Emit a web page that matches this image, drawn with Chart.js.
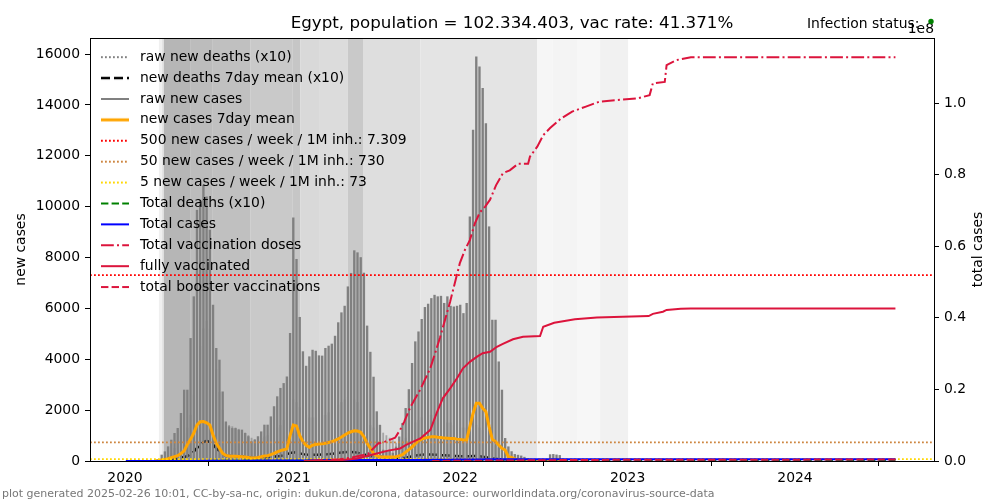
<!DOCTYPE html>
<html>
<head>
<meta charset="utf-8">
<script src="https://cdn.jsdelivr.net/npm/chart.js@4.4.1/dist/chart.umd.min.js"></script>
<style>
  html, body { margin: 0; padding: 0; background: #fff; }
</style>
</head>
<body>
<canvas id="myChart" width="1000" height="500"></canvas>
<script>
// ---- data -------------------------------------------------------------
const MIO = 1e6;
const yearLabels = ['2020', '2021', '2022', '2023', '2024'];
const leftTicks = [0, 2000, 4000, 6000, 8000, 10000, 12000, 14000, 16000];
const rightTicks = [0, 2e7, 4e7, 6e7, 8e7, 1e8];

// weekly reports, first week ending 2020-03-07
const weekStart = '2020-03-07';
const casesWeekly = [
  10, 60, 236, 366, 563, 825, 1087, 1284, 1874, 2790,
  2790, 4820, 6460, 9860, 10260, 10850, 10390, 9080, 6130, 4430,
  3970, 2720, 1540, 1350, 1280, 1280, 1220, 1220, 1090, 960,
  760, 825, 960, 1150, 1415, 1415, 1740, 2140, 2530, 2860,
  3050, 3310, 5020, 9560, 7930, 5650, 4300, 3730, 4100, 4360,
  4320, 4140, 4130, 4430, 4520, 4600, 4910, 5440, 5830, 6090,
  6850, 7380, 8270, 8190, 8000, 7390, 5310, 4280, 3300, 1940,
  1410, 430, 400, 430, 310, 550, 950, 1480, 2070, 2810,
  3840, 4690, 5080, 5570, 6040, 6170, 6390, 6520, 6460, 6480,
  6200, 6460, 6090, 6060, 6090, 6130, 5800, 6200, 9600, 13010,
  15890, 15500, 14650, 13270, 9210, 5540, 5540, 3900, 2790, 890,
  560, 370, 260, 230, 200, 150, 100, 60, 40, 30,
  30, 20, 30, 250, 260, 240, 220, 80
];
const casesMean = [
  2, 10, 40, 60, 90, 130, 170, 210, 290, 400,
  650, 850, 1100, 1415, 1545, 1550, 1500, 1415, 1020, 700,
  500, 300, 220, 190, 185, 185, 180, 170, 160, 140,
  115, 115, 135, 165, 200, 210, 250, 300, 360, 410,
  440, 480, 1000, 1415, 1380, 1000, 760, 620, 540, 620,
  650, 670, 680, 695, 730, 760, 810, 865, 940, 1020,
  1100, 1150, 1190, 1180, 1130, 955, 695, 500, 300, 200,
  170, 160, 157, 157, 157, 165, 200, 250, 350, 450,
  550, 680, 790, 860, 900, 930, 955, 955, 930, 920,
  900, 890, 880, 880, 860, 850, 830, 830, 1350, 1870,
  2270, 2270, 2070, 1940, 1350, 850, 760, 630, 500, 430,
  170, 145, 80, 50, 30, 25, 15, 10, 6, 5,
  4, 3, 4, 35, 37, 34, 30, 12
];
const deathsWeekly10 = [
  0, 0, 20, 50, 150, 300, 500, 700, 900, 1100,
  1300, 1800, 2600, 3600, 4500, 5200, 5500, 5200, 4500, 3600,
  2700, 2000, 1500, 1400, 1350, 1300, 1250, 1200, 1100, 1000,
  900, 850, 850, 900, 950, 1000, 1100, 1200, 1300, 1400,
  1600, 1900, 2200, 2400, 2300, 2100, 1900, 1800, 1700, 1700,
  1700, 1700, 1800, 1800, 1900, 2000, 2100, 2200, 2300, 2400,
  2500, 2500, 2400, 2300, 2000, 1800, 1600, 1400, 1300, 1200,
  1200, 1100, 1000, 900, 800, 700, 700, 800, 900, 1100,
  1300, 1500, 1600, 1700, 1800, 1800, 1800, 1700, 1700, 1600,
  1600, 1500, 1500, 1400, 1400, 1300, 1300, 1300, 1300, 1400,
  1400, 1300, 1200, 1000, 900, 700, 600, 500, 400, 300,
  200, 150, 100, 80, 60, 50, 40, 30, 30, 20,
  20, 20, 30, 30, 20, 20, 10, 10
];
const deathsMean10 = [
  0, 0, 3, 7, 20, 40, 70, 100, 130, 160,
  190, 260, 370, 510, 640, 740, 790, 740, 640, 510,
  390, 290, 210, 200, 190, 185, 180, 170, 160, 145,
  130, 120, 120, 130, 135, 145, 160, 170, 185, 200,
  230, 270, 310, 340, 330, 300, 270, 255, 245, 245,
  245, 245, 255, 255, 270, 285, 300, 315, 330, 345,
  355, 355, 345, 330, 285, 255, 230, 200, 185, 170,
  170, 155, 145, 130, 115, 100, 100, 115, 130, 155,
  185, 215, 230, 245, 255, 255, 255, 245, 245, 230,
  230, 215, 215, 200, 200, 185, 185, 185, 185, 200,
  200, 185, 170, 145, 130, 100, 85, 70, 55, 45,
  30, 20, 15, 10, 8, 7, 5, 4, 4, 3,
  3, 3, 4, 4, 3, 3, 1, 1
];

// thresholds: 500 / 50 / 5 new cases per week per 1M inhabitants
const thresholds = [7309, 730, 73];

// cumulative totals (right axis)
const totalDates = ['2020-01-03', '2020-03-01', '2020-04-01', '2020-05-01', '2020-06-01', '2020-07-01',
  '2020-08-01', '2020-09-01', '2020-10-01', '2020-11-01', '2020-12-01', '2021-01-01', '2021-02-01',
  '2021-03-01', '2021-04-01', '2021-05-01', '2021-06-01', '2021-07-01', '2021-08-01', '2021-09-01',
  '2021-10-01', '2021-11-01', '2021-12-01', '2022-01-01', '2022-02-01', '2022-03-01', '2022-04-01',
  '2022-05-01', '2022-06-01', '2022-09-01', '2024-08-07'];
const totalCases = [0, 2, 700, 5500, 25000, 68000, 94000, 99000, 103000, 108000, 117000, 139000, 167000,
  182000, 200000, 225000, 262000, 280000, 284000, 290000, 305000, 334000, 361000, 385000, 430000,
  490000, 505000, 510000, 513000, 515000, 516000];
const totalDeaths10 = [0, 0, 400, 4000, 7000, 30000, 48000, 54000, 59000, 62000, 66000, 77000, 93000,
  107000, 119000, 132000, 150000, 162000, 166000, 169000, 174000, 183000, 197000, 213000, 228000,
  240000, 244000, 246000, 247000, 248000, 248000];

const dosesDates = ['2021-02-07', '2021-04-14', '2021-05-10', '2021-06-14', '2021-07-06', '2021-07-21',
  '2021-08-12', '2021-08-23', '2021-09-01', '2021-09-14', '2021-10-06', '2021-10-28', '2021-11-18',
  '2021-12-10', '2021-12-20', '2021-12-31', '2022-01-11', '2022-01-22', '2022-02-02', '2022-02-13',
  '2022-02-24', '2022-03-07', '2022-03-20', '2022-04-04', '2022-04-19', '2022-05-07', '2022-05-29',
  '2022-06-02', '2022-06-18', '2022-07-01', '2022-07-16', '2022-08-09', '2022-09-02', '2022-10-02',
  '2022-11-01', '2022-12-08', '2023-01-23', '2023-02-18', '2023-02-25', '2023-03-23', '2023-03-27',
  '2023-04-18', '2023-05-19', '2024-08-07'];
const dosesMio = [0.1, 0.5, 1.0, 2.0, 4.9, 5.4, 6.5, 8.7, 11, 15, 20, 26, 34.5, 44.5, 49.6, 55.2, 58.9,
  61.7, 66.4, 69.5, 71, 73, 77, 80.4, 81.2, 83, 83, 85, 87.8, 91, 93, 95.7, 97.6, 99.0, 100.4, 100.8,
  101.3, 102.2, 105.5, 105.9, 110.6, 112, 112.8, 112.8];

const fullyDates = ['2021-01-25', '2021-04-05', '2021-05-21', '2021-06-20', '2021-07-28', '2021-08-23',
  '2021-09-05', '2021-10-06', '2021-10-28', '2021-11-11', '2021-11-24', '2021-12-10', '2021-12-25',
  '2022-01-07', '2022-01-22', '2022-02-06', '2022-02-19', '2022-03-07', '2022-03-22', '2022-04-04',
  '2022-04-26', '2022-05-18', '2022-06-24', '2022-07-01', '2022-07-25', '2022-09-08', '2022-10-26',
  '2023-02-16', '2023-02-25', '2023-03-19', '2023-03-27', '2023-04-27', '2023-05-19', '2024-08-07'];
const fullyMio = [0, 0.1, 0.7, 1.7, 2.9, 3.5, 4.5, 6.3, 8.7, 13.5, 17.5, 20.3, 23.1, 25.9, 27.7, 29.1,
  30.1, 30.5, 31.9, 32.7, 34.0, 34.7, 34.9, 37.5, 38.6, 39.6, 40.1, 40.5, 41.1, 41.7, 42.2, 42.5, 42.6, 42.6];

const boosterDates = ['2021-11-01', '2022-06-01', '2023-01-01', '2024-08-07'];
const boosterMio = [0, 0.2, 0.35, 0.4];

// stringency periods shown as grey background (level = darkness)
const bandStarts = ['2020-03-15', '2020-03-22', '2020-03-26', '2020-05-22', '2020-07-09', '2020-09-30',
  '2021-01-01', '2021-01-17', '2021-03-01', '2021-05-01', '2021-06-03', '2021-10-06', '2022-06-18',
  '2022-07-22', '2022-09-13', '2022-11-02'];
const bandEnds = ['2020-03-22', '2020-03-26', '2020-05-22', '2020-07-09', '2020-09-30', '2021-01-01',
  '2021-01-17', '2021-03-01', '2021-05-01', '2021-06-03', '2021-10-06', '2022-06-18', '2022-07-22',
  '2022-09-13', '2022-11-02', '2023-01-02'];
const bandLevels = [15, 31, 73, 67, 63, 54, 57, 38, 35, 54, 33, 27, 9, 11, 8, 14];

const legendNames = [
  'raw new deaths (x10)', 'new deaths 7day mean (x10)', 'raw new cases', 'new cases 7day mean',
  '500 new cases / week / 1M inh.: 7.309', '50 new cases / week / 1M inh.: 730',
  '5 new cases / week / 1M inh.: 73', 'Total deaths (x10)', 'Total cases',
  'Total vaccination doses', 'fully vaccinated', 'total booster vaccinations'
];

// ---- helpers ----------------------------------------------------------
const base = Date.UTC(2020, 0, 1);
function dayOf(s) { return (Date.parse(s + 'T00:00:00Z') - base) / 86400000; }
const xMin = -76.3, xMax = 1764.1;
const weekDays = casesWeekly.map((_, i) => dayOf(weekStart) + 7 * i);
const yearDays = yearLabels.map(y => dayOf(y + '-01-01'));

function weekly(vals) { return vals.map((v, i) => ({x: weekDays[i], y: v})); }
function dated(dates, vals, mult) { return dates.map((d, i) => ({x: dayOf(d), y: vals[i] * (mult || 1)})); }
function flat(v) { return [{x: xMin, y: v}, {x: xMax, y: v}]; }

const styles = [
  {color: '#808080', width: 1.8, dash: [1.8, 2.2]},
  {color: '#000000', width: 2.5, dash: [9, 4]},
  {color: '#808080', width: 2, dash: []},
  {color: '#ffa500', width: 3, dash: []},
  {color: '#ff0000', width: 1.8, dash: [1.8, 2.2]},
  {color: '#cd853f', width: 1.8, dash: [1.8, 2.2]},
  {color: '#ffd700', width: 1.8, dash: [1.8, 2.2]},
  {color: '#008000', width: 2, dash: [7.4, 3.2]},
  {color: '#0000ff', width: 2, dash: []},
  {color: '#dc143c', width: 2, dash: [12.8, 3.2, 2, 3.2]},
  {color: '#dc143c', width: 2, dash: []},
  {color: '#dc143c', width: 2, dash: [7.4, 3.2]}
];

function lineSample(st) {
  const c = document.createElement('canvas');
  c.width = 28; c.height = 8;
  const g = c.getContext('2d');
  g.strokeStyle = st.color; g.lineWidth = st.width; g.setLineDash(st.dash);
  g.beginPath(); g.moveTo(0, 4); g.lineTo(28, 4); g.stroke();
  return c;
}

function line(idx, data, axis, order, extra) {
  const st = styles[idx];
  return Object.assign({
    type: 'line', label: legendNames[idx], data: data, yAxisID: axis, order: order,
    borderColor: st.color, borderWidth: st.width, borderDash: st.dash,
    pointRadius: 0, fill: false, tension: 0
  }, extra || {});
}

// ---- plugins ----------------------------------------------------------
const bandsPlugin = {
  id: 'bands',
  beforeDatasetsDraw(chart) {
    const {ctx, chartArea: a, scales: {x}} = chart;
    ctx.save();
    bandStarts.forEach((s, i) => {
      const x0 = Math.max(x.getPixelForValue(dayOf(s)), a.left);
      const x1 = Math.min(x.getPixelForValue(dayOf(bandEnds[i])), a.right);
      const g = 255 - bandLevels[i];
      ctx.fillStyle = `rgb(${g},${g},${g})`;
      ctx.fillRect(x0, a.top, x1 - x0, a.bottom - a.top);
    });
    ctx.restore();
  }
};

const legendOnTop = {
  id: 'legendOnTop',
  beforeUpdate(chart) {
    const lg = chart.legend;
    if (lg) lg._layers = () => [{z: 10, draw: (area) => lg.draw(area)}];
  },
  beforeDraw(chart) {
    const lg = chart.legend, a = chart.chartArea;
    if (!lg) return;
    lg.left = a.left; lg.top = a.top; lg.right = a.right; lg.bottom = a.bottom;
  }
};

const textPlugin = {
  id: 'texts',
  afterDraw(chart) {
    const {ctx, chartArea: a} = chart;
    ctx.save();
    ctx.strokeStyle = '#000';
    ctx.lineWidth = 1;
    ctx.strokeRect(a.left + 0.5, a.top + 0.5, a.right - a.left, a.bottom - a.top);
    ctx.fillStyle = '#000';
    ctx.textBaseline = 'middle';
    ctx.font = '16.7px "DejaVu Sans"';
    ctx.textAlign = 'center';
    ctx.fillText('Egypt, population = 102.334.403, vac rate: 41.371%', (a.left + a.right) / 2, 24);
    ctx.font = '13.9px "DejaVu Sans"';
    ctx.textAlign = 'right';
    ctx.fillText('1e8', a.right, 29);
    ctx.textAlign = 'left';
    ctx.fillText('Infection status: ', 807, 24);
    ctx.fillStyle = '#008000';
    ctx.beginPath(); ctx.arc(931, 21.5, 2.7, 0, Math.PI * 2); ctx.fill();
    ctx.fillStyle = '#000';
    ctx.textAlign = 'center';
    ctx.save(); ctx.translate(21, (a.top + a.bottom) / 2); ctx.rotate(-Math.PI / 2);
    ctx.fillText('new cases', 0, 0); ctx.restore();
    ctx.save(); ctx.translate(978, (a.top + a.bottom) / 2); ctx.rotate(-Math.PI / 2);
    ctx.fillText('total cases', 0, 0); ctx.restore();
    ctx.font = '11px "DejaVu Sans"';
    ctx.fillStyle = '#777';
    ctx.textAlign = 'left';
    ctx.fillText('plot generated 2025-02-26 10:01, CC-by-sa-nc, origin: dukun.de/corona, datasource: ourworldindata.org/coronavirus-source-data', 2, 494);
    ctx.restore();
  }
};

// ---- chart ------------------------------------------------------------
Chart.defaults.font.family = '"DejaVu Sans"';
Chart.defaults.font.size = 13.9;
Chart.defaults.color = '#000';

const tickGrid = {drawOnChartArea: false, drawTicks: true, tickLength: 5, tickColor: '#000', tickWidth: 1};

const config = {
  type: 'line',
  data: {
    datasets: [
      line(11, dated(boosterDates, boosterMio, MIO), 'y2', 1),
      line(10, dated(fullyDates, fullyMio, MIO), 'y2', 2),
      line(9, dated(dosesDates, dosesMio, MIO), 'y2', 3),
      line(8, dated(totalDates, totalCases), 'y2', 4),
      line(7, dated(totalDates, totalDeaths10), 'y2', 5),
      line(6, flat(thresholds[2]), 'y', 6),
      line(5, flat(thresholds[1]), 'y', 7),
      line(4, flat(thresholds[0]), 'y', 8),
      line(3, weekly(casesMean), 'y', 9),
      {type: 'bar', label: legendNames[2], data: weekly(casesWeekly), yAxisID: 'y', order: 10,
        backgroundColor: '#808080', borderWidth: 0, barThickness: 1.7, grouped: false},
      line(1, weekly(deathsMean10), 'y', 11),
      {type: 'bar', label: legendNames[0], data: weekly(deathsWeekly10), yAxisID: 'y', order: 12,
        backgroundColor: 'rgba(120,120,120,0.55)', borderWidth: 0, barThickness: 1.2, grouped: false}
    ]
  },
  options: {
    responsive: false,
    animation: false,
    devicePixelRatio: 1,
    layout: {padding: {top: 38, left: 0, right: 0, bottom: 0}},
    scales: {
      x: {
        type: 'linear', min: xMin, max: xMax, offset: false,
        grid: tickGrid, border: {display: false},
        afterBuildTicks: s => { s.ticks = yearDays.map(v => ({value: v})); },
        ticks: {maxRotation: 0, autoSkip: false, padding: 4,
          callback: v => yearLabels[yearDays.indexOf(v)]},
        afterFit: s => { s.height = 39; }
      },
      y: {
        position: 'left', min: 0, max: 16630,
        grid: tickGrid, border: {display: false},
        afterBuildTicks: s => { s.ticks = leftTicks.map(v => ({value: v})); },
        ticks: {padding: 5, callback: v => String(v)},
        afterFit: s => { s.width = 90; }
      },
      y2: {
        position: 'right', min: 0, max: 1.1816e8,
        grid: tickGrid, border: {display: false},
        afterBuildTicks: s => { s.ticks = rightTicks.map(v => ({value: v})); },
        ticks: {padding: 5, callback: v => (v / 1e8).toFixed(1)},
        afterFit: s => { s.width = 66; }
      }
    },
    plugins: {
      title: {display: false},
      tooltip: {enabled: false},
      legend: {
        position: 'chartArea', align: 'start',
        title: {display: true, text: ' ', font: {size: 1}, padding: 2},
        labels: {
          usePointStyle: true, pointStyleWidth: 36, boxHeight: 13.9, padding: 7,
          font: {size: 13.9}, color: '#000',
          generateLabels: () => legendNames.map((t, i) => ({
            text: t, pointStyle: lineSample(styles[i]), fillStyle: 'rgba(0,0,0,0)',
            strokeStyle: 'rgba(0,0,0,0)', lineWidth: 0, hidden: false, index: i
          }))
        }
      }
    }
  },
  plugins: [bandsPlugin, legendOnTop, textPlugin]
};

const myChart = new Chart(document.getElementById('myChart'), config);
</script>
</body>
</html>
